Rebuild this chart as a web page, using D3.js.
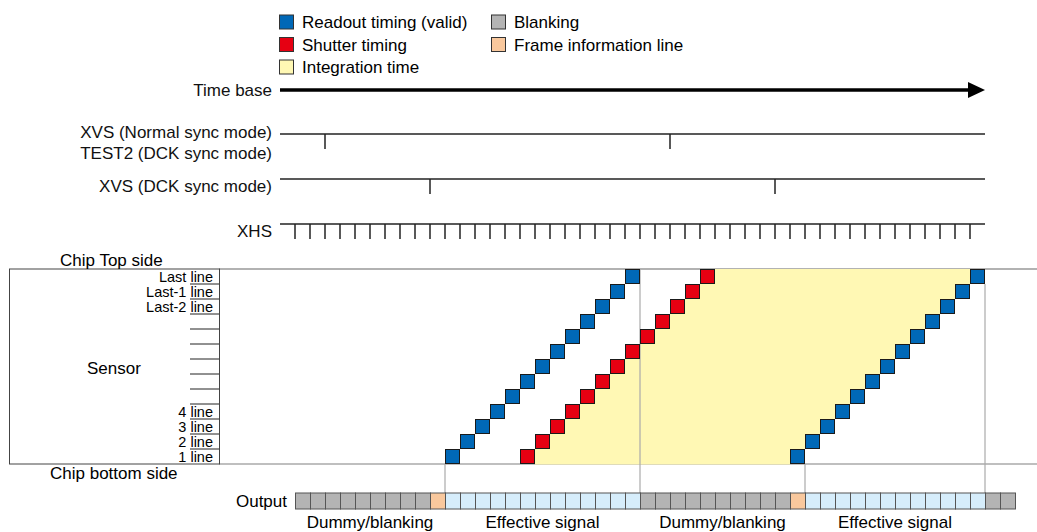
<!DOCTYPE html>
<html><head><meta charset="utf-8">
<script src="https://cdn.jsdelivr.net/npm/d3@7"></script>
<style>body{margin:0;background:#fff}svg{display:block;font-family:"Liberation Sans",Arial,sans-serif}</style>
</head><body><svg id="c" width="1037" height="532"></svg>
<script>
// ---- data ----
const legendLabels = ["Readout timing (valid)", "Shutter timing", "Integration time", "Blanking", "Frame information line"];
const legendKinds = ["readout", "shutter", "integration", "blank", "frame"];
const signalLabels = ["Time base", "XVS (Normal sync mode)", "TEST2 (DCK sync mode)", "XVS (DCK sync mode)", "XHS"];
const xvsNormalPulses = [2, 25];
const xvsDckPulses = [9, 32];
const xhsTicks = d3.range(0, 46);
const rowLabels = ["1 line", "2 line", "3 line", "4 line", "", "", "", "", "", "", "Last-2 line", "Last-1 line", "Last line"];
const readout1Start = 10, shutterStart = 15, readout2Start = 33;
const outputSegKinds = ["blank", "frame", "valid", "blank", "frame", "valid", "blank"];
const outputSegLengths = [9, 1, 13, 10, 1, 12, 2];
const sectionLabels = ["Dummy/blanking", "Effective signal", "Dummy/blanking", "Effective signal"];
const sectionRanges = [[0, 10], [10, 23], [23, 34], [34, 46]];
const markerTimes = [10, 23, 34, 46];

const colors = {readout: "#0068b7", shutter: "#e60012", integration: "#fff8b4", blank: "#b4b4b4", frame: "#f9c89d", valid: "#d6edfb"};

const svg = d3.select("#c");
const x = d3.scaleLinear().domain([0, 48]).range([295, 1015]);
const nRows = rowLabels.length;
const y = d3.scaleLinear().domain([0, nRows]).range([464, 269]);
const F = 17;

// legend
const legPos = [[279, 22], [279, 44.5], [279, 67], [491, 22], [491, 44.5]];
legendLabels.forEach((lab, i) => {
  const [lx, ly] = legPos[i];
  svg.append("rect").attr("x", lx + 0.5).attr("y", ly - 7).attr("width", 14).attr("height", 14)
    .attr("fill", colors[legendKinds[i]]).attr("stroke", "#333").attr("stroke-width", 1);
  svg.append("text").attr("x", lx + 23).attr("y", ly + 6).attr("font-size", F).text(lab);
});

// signals
const sigY = [90, 134, 153, 179, 224];
const lbl = (t, yy) => svg.append("text").attr("x", 272).attr("y", yy).attr("text-anchor", "end").attr("font-size", F).attr("fill", "#111").text(t);
lbl(signalLabels[0], 96);
lbl(signalLabels[1], 138);
lbl(signalLabels[2], 159);
lbl(signalLabels[3], 192);
lbl(signalLabels[4], 237);

svg.append("line").attr("x1", 280).attr("x2", 970).attr("y1", sigY[0]).attr("y2", sigY[0]).attr("stroke", "#000").attr("stroke-width", 3.5);
svg.append("path").attr("d", `M968,82 L985,90 L968,98 Z`).attr("fill", "#000");

function signal(yy, pulses, len) {
  svg.append("line").attr("x1", 280).attr("x2", 985).attr("y1", yy).attr("y2", yy).attr("stroke", "#222").attr("stroke-width", 1.5);
  svg.selectAll(null).data(pulses).enter().append("line")
    .attr("x1", d => x(d)).attr("x2", d => x(d)).attr("y1", yy).attr("y2", yy + len)
    .attr("stroke", "#222").attr("stroke-width", 1.5);
}
signal(134, xvsNormalPulses, 15);
signal(179, xvsDckPulses, 15);
signal(224, xhsTicks, 15);

// sensor box
svg.append("line").attr("x1", 219).attr("x2", 1037).attr("y1", y(nRows)).attr("y2", y(nRows)).attr("stroke", "#999").attr("stroke-width", 1.5);
svg.append("line").attr("x1", 219).attr("x2", 1037).attr("y1", y(0)).attr("y2", y(0)).attr("stroke", "#aaa").attr("stroke-width", 1.5);
svg.append("rect").attr("x", 9.5).attr("y", y(nRows)).attr("width", 210).attr("height", y(0) - y(nRows))
  .attr("fill", "none").attr("stroke", "#444").attr("stroke-width", 1);
d3.range(1, nRows).forEach(r => {
  svg.append("line").attr("x1", 190).attr("x2", 219).attr("y1", y(r)).attr("y2", y(r)).attr("stroke", "#222").attr("stroke-width", 1);
});
rowLabels.forEach((t, r) => {
  if (!t) return;
  svg.append("text").attr("x", 213).attr("y", (y(r) + y(r + 1)) / 2 + 5).attr("text-anchor", "end").attr("font-size", 14.5).text(t);
});
svg.append("text").attr("x", 87).attr("y", 374).attr("font-size", F).text("Sensor");
svg.append("text").attr("x", 60).attr("y", 266).attr("font-size", F).text("Chip Top side");
svg.append("text").attr("x", 50).attr("y", 479).attr("font-size", F).text("Chip bottom side");

// integration area
d3.range(nRows).forEach(r => {
  svg.append("rect").attr("x", x(shutterStart + r + 1)).attr("y", y(r + 1))
    .attr("width", x(readout2Start + r) - x(shutterStart + r + 1)).attr("height", y(r) - y(r + 1) + 0.5)
    .attr("fill", colors.integration);
});

// vertical markers
const outTop = 493, outH = 16;
const markerTop = [y(0), y(nRows), y(0), y(nRows - 1)];
markerTimes.forEach((t, i) => {
  svg.append("line").attr("x1", x(t)).attr("x2", x(t)).attr("y1", markerTop[i]).attr("y2", outTop)
    .attr("stroke", "#aaa").attr("stroke-width", 1.2);
});

// staircases
function stair(start, color) {
  svg.selectAll(null).data(d3.range(nRows)).enter().append("rect")
    .attr("x", r => x(start + r) + 0.5).attr("y", r => y(r + 1) + 0.5)
    .attr("width", x(1) - x(0) - 1).attr("height", y(0) - y(1) - 1)
    .attr("fill", color).attr("stroke", "#1a1a1a").attr("stroke-width", 1);
}
stair(readout1Start, colors.readout);
stair(shutterStart, colors.shutter);
stair(readout2Start, colors.readout);

// output row
const cells = [];
let t0 = 0;
outputSegKinds.forEach((k, i) => { for (let j = 0; j < outputSegLengths[i]; j++) cells.push({t: t0 + j, k}); t0 += outputSegLengths[i]; });
svg.selectAll(null).data(cells).enter().append("rect")
  .attr("x", d => x(d.t) + 0.5).attr("y", outTop).attr("width", x(1) - x(0)).attr("height", outH)
  .attr("fill", d => colors[d.k]).attr("stroke", "#555").attr("stroke-width", 1);
svg.append("text").attr("x", 287).attr("y", outTop + 14).attr("text-anchor", "end").attr("font-size", F).text("Output");
sectionLabels.forEach((t, i) => {
  svg.append("text").attr("x", (x(sectionRanges[i][0]) + x(sectionRanges[i][1])) / 2).attr("y", 528)
    .attr("text-anchor", "middle").attr("font-size", F).text(t);
});
</script></body></html>
